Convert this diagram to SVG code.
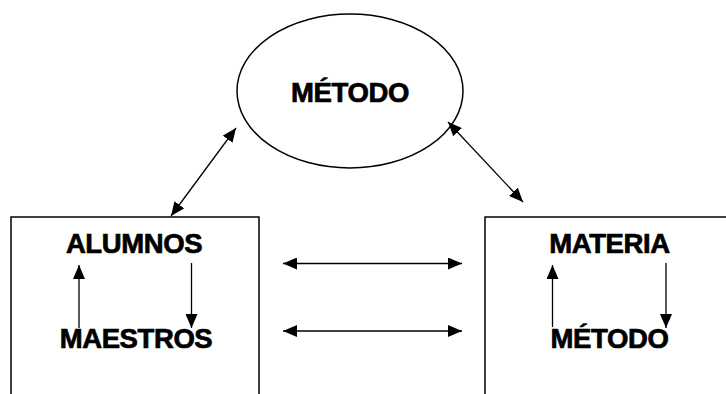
<svg xmlns="http://www.w3.org/2000/svg" width="726" height="394" viewBox="0 0 726 394">
<style>
.shape{fill:#fff;stroke:#000;stroke-width:1.5}
.lbl{font-family:"Liberation Sans",Arial,sans-serif;font-weight:bold;font-size:27.5px;fill:#000;stroke:#000;stroke-width:0.7;text-anchor:middle;letter-spacing:-0.4px}
.conn{stroke:#000;stroke-width:1.3;fill:none}
</style>
<defs>
<marker id="ah" markerUnits="userSpaceOnUse" markerWidth="14" markerHeight="12" refX="14" refY="6" orient="auto-start-reverse" viewBox="0 0 14 12">
<path d="M0,0 L14,6 L0,12 Z" fill="#000"/>
</marker>
</defs>
<rect width="726" height="394" fill="#fff"/>
<g id="metodo-top">
<ellipse class="shape" cx="350" cy="91" rx="113" ry="77"/>
<text class="lbl" x="350" y="102">MÉTODO</text>
</g>
<g id="left-box">
<path class="shape" d="M11,396 L11,217 L259,217 L259,396"/>
<text class="lbl" x="134" y="253">ALUMNOS</text>
<text class="lbl" x="136" y="348">MAESTROS</text>
</g>
<g id="right-box">
<path class="shape" d="M485,396 L485,217 L728,217"/>
<text class="lbl" x="609.5" y="253">MATERIA</text>
<text class="lbl" x="609.5" y="348">MÉTODO</text>
</g>
<g id="connectors">
<line class="conn" x1="171" y1="216" x2="236" y2="128" marker-start="url(#ah)" marker-end="url(#ah)"/>
<line class="conn" x1="448" y1="122" x2="523" y2="202" marker-start="url(#ah)" marker-end="url(#ah)"/>
<line class="conn" x1="283" y1="263.5" x2="462" y2="263.5" marker-start="url(#ah)" marker-end="url(#ah)"/>
<line class="conn" x1="283" y1="331" x2="462" y2="331" marker-start="url(#ah)" marker-end="url(#ah)"/>
<line class="conn" x1="79" y1="328" x2="79" y2="265" marker-end="url(#ah)"/>
<line class="conn" x1="191.5" y1="263" x2="191.5" y2="328" marker-end="url(#ah)"/>
<line class="conn" x1="552.5" y1="327" x2="552.5" y2="265" marker-end="url(#ah)"/>
<line class="conn" x1="666" y1="263" x2="666" y2="328" marker-end="url(#ah)"/>
</g>
</svg>
